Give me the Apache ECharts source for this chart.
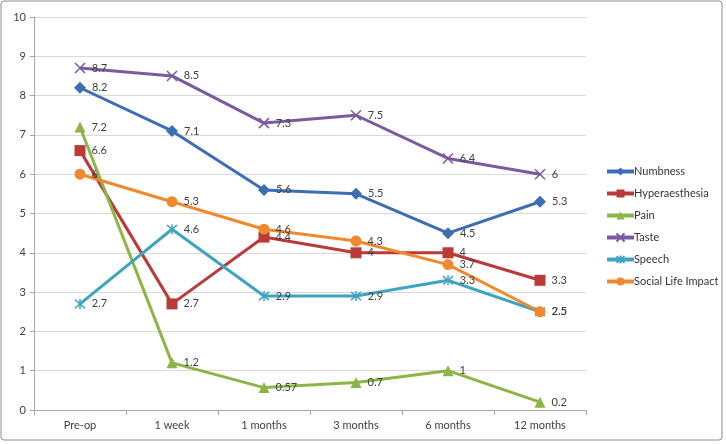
<!DOCTYPE html>
<html><head><meta charset="utf-8">
<script src="https://cdn.jsdelivr.net/npm/echarts@6/dist/echarts.min.js"></script>
<style>html,body{margin:0;padding:0;background:#fff}#c{width:726px;height:444px}</style>
</head><body><div id="c"></div>
<script>
var categories = ['Pre-op','1 week','1 months','3 months','6 months','12 months'];
var numbness = [8.2, 7.1, 5.6, 5.5, 4.5, 5.3];
var hyperaesthesia = [6.6, 2.7, 4.4, 4, 4, 3.3];
var pain = [7.2, 1.2, 0.57, 0.7, 1, 0.2];
var taste = [8.7, 8.5, 7.3, 7.5, 6.4, 6];
var speech = [2.7, 4.6, 2.9, 2.9, 3.3, 2.5];
var socialLife = [6, 5.3, 4.6, 4.3, 3.7, 2.5];
var yTicks = [0,1,2,3,4,5,6,7,8,9,10];

var FONT = 'Lato, "Open Sans", sans-serif';
var xPath = 'path://M0,0L10,10M10,0L0,10';
var starPath = 'path://M0,0L10,10M10,0L0,10M5,-1L5,11';

function mk(name, data, color, symbol, size, stroke) {
  var s = {
    name: name, type: 'line', data: data,
    symbol: symbol, symbolSize: size,
    lineStyle: {color: color, width: 3},
    itemStyle: {color: color},
    label: {show: true, position: 'right', distance: 6, color: '#404040', fontSize: 11, fontFamily: FONT},
    z: 2
  };
  if (stroke) {
    s.itemStyle = {color: color, borderColor: color, borderWidth: 1.5};
  }
  return s;
}

var chart = echarts.init(document.getElementById('c'));
chart.setOption({
  animation: false,
  backgroundColor: '#fff',
  graphic: [{type: 'rect', shape: {x: 1, y: 1, width: 721, height: 439, r: 3},
    style: {fill: 'none', stroke: '#8c8c8c', lineWidth: 1}, z: -1}],
  grid: {left: 34, right: 140, top: 17, bottom: 34, containLabel: false},
  legend: {
    orient: 'vertical', left: 600, top: 161, itemGap: 11, itemWidth: 27, itemHeight: 10,
    lineStyle: {width: 4},
    textStyle: {fontSize: 11, color: '#333', fontFamily: FONT, padding: [0,0,0,-5]},
    data: ['Numbness','Hyperaesthesia','Pain','Taste','Speech','Social Life Impact']
  },
  xAxis: {
    type: 'category', data: categories, boundaryGap: true,
    axisLine: {lineStyle: {color: '#a6a6a6'}},
    axisTick: {show: true, length: 5, lineStyle: {color: '#a6a6a6'}},
    axisLabel: {color: '#404040', fontSize: 11, fontFamily: FONT, margin: 10}
  },
  yAxis: {
    type: 'value', min: yTicks[0], max: yTicks[yTicks.length-1], interval: 1,
    axisLine: {show: true, lineStyle: {color: '#a6a6a6'}},
    axisTick: {show: true, length: 4, lineStyle: {color: '#a6a6a6'}},
    splitLine: {lineStyle: {color: '#d9d9d9'}},
    axisLabel: {color: '#404040', fontSize: 11, fontFamily: FONT, margin: 8}
  },
  series: [
    mk('Numbness', numbness, '#3d6db3', 'diamond', 12),
    mk('Hyperaesthesia', hyperaesthesia, '#b93a37', 'rect', 11),
    mk('Pain', pain, '#8db446', 'triangle', 11),
    mk('Taste', taste, '#7a5aa0', xPath, 10, true),
    mk('Speech', speech, '#3fa4c0', starPath, 10, true),
    mk('Social Life Impact', socialLife, '#f0892e', 'circle', 11)
  ]
});
</script></body></html>
